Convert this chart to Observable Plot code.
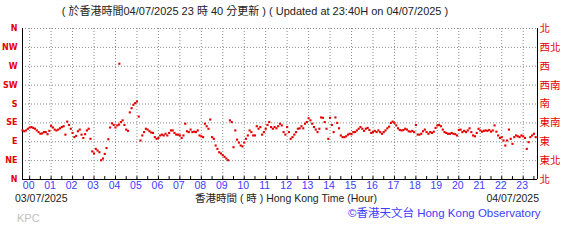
<!DOCTYPE html>
<html><head><meta charset="utf-8">
<script src="https://cdn.jsdelivr.net/npm/d3@7"></script>
<script src="https://cdn.jsdelivr.net/npm/@observablehq/plot@0.6"></script>
<style>
body{margin:0;background:#fff;}
#wrap{position:relative;width:568px;height:243px;overflow:hidden;font-family:"Liberation Sans","Noto Sans CJK TC",sans-serif;}
#wrap svg{position:absolute;left:0;top:0;}
.t{position:absolute;white-space:nowrap;line-height:1;}
</style></head><body>
<div id="wrap">
  <div id="chart"></div>
  <div class="t" id="title" style="left:0;width:510px;text-align:center;top:6px;font-size:11px;color:#222;"></div>
  <div class="t" id="dleft" style="left:15px;top:193px;font-size:10.5px;color:#222;"></div>
  <div class="t" id="xlabel" style="left:195px;top:193px;font-size:10.5px;color:#222;"></div>
  <div class="t" id="dright" style="right:29px;top:193px;font-size:10.5px;color:#222;"></div>
  <div class="t" id="kpc" style="left:17px;top:213px;font-size:11px;color:#c0c0c0;"></div>
  <div class="t" id="copy" style="left:348px;top:208px;font-size:11.5px;color:#3c3cff;"></div>
</div>
<script>
// ---- texts ----
const titleText = "( 於香港時間04/07/2025 23 時 40 分更新 ) ( Updated at 23:40H on 04/07/2025 )";
const startDate = "03/07/2025";
const endDate = "04/07/2025";
const xAxisTitle = "香港時間 ( 時 ) Hong Kong Time (Hour)";
const stationCode = "KPC";
const copyright = "©香港天文台 Hong Kong Observatory";

// ---- axes ----
const hourLabels = ["00","01","02","03","04","05","06","07","08","09","10","11","12","13","14","15","16","17","18","19","20","21","22","23"];
const dirDegrees = [0,45,90,135,180,225,270,315,360];
const dirLabelsEn = ["N","NE","E","SE","S","SW","W","NW","N"];
const dirLabelsZh = ["北","東北","東","東南","南","西南","西","西北","北"];

// ---- data: wind direction (degrees), one reading per 5 minutes from 23:40 ----
const startHour = -1/3;
const stepMinutes = 5;
const windDir = [
117,115,117,121,124,125,123,121,117,113,
109,110,113,113,108,116,128,124,119,117,
119,122,125,127,107,138,130,121,111,101,
104,115,119,107,99,108,117,121,97,67,
62,73,69,65,46,50,61,75,96,124,
134,130,124,129,131,137,141,130,119,116,
160,170,178,182,186,150,93,105,113,121,
119,115,112,111,101,97,99,105,107,105,
109,105,111,117,117,111,107,107,105,99,
105,133,115,113,119,113,114,113,117,105,
103,101,133,127,121,143,101,97,81,73,
65,62,58,54,50,46,141,137,77,117,
95,88,81,79,88,97,105,117,113,105,
105,127,121,125,107,113,121,130,137,125,
121,125,122,127,133,129,113,107,125,113,
97,101,107,113,121,122,127,122,133,137,
146,141,133,125,119,113,121,148,147,137,
121,97,147,130,113,148,135,122,105,101,
101,103,107,109,108,113,113,117,121,125,
121,116,121,123,118,111,113,116,113,117,
113,109,113,117,122,126,135,138,135,129,
122,118,117,118,121,119,115,114,116,113,
130,107,107,109,115,119,113,109,113,111,
114,123,129,130,127,119,113,111,109,109,
111,109,108,105,118,119,113,116,113,117,
122,113,105,103,111,121,117,114,116,117,
116,118,114,117,129,114,105,99,101,93,
81,93,119,97,85,101,105,103,101,105,
103,99,73,89,101,105,109,101
];
// isolated reading
const extraHours = [4.18];
const extraDirs = [276];

// ---- build ----
document.getElementById("title").textContent = titleText;
document.getElementById("dleft").textContent = startDate;
document.getElementById("dright").textContent = endDate;
document.getElementById("xlabel").textContent = xAxisTitle;
document.getElementById("kpc").textContent = stationCode;
document.getElementById("copy").textContent = copyright;

const rows = windDir.map((d, i) => ({t: startHour + i * stepMinutes / 60, d})).filter(r => r.d != null);
const extra = extraHours.map((t, i) => ({t, d: extraDirs[i]}));
const hours = hourLabels.map(h => +h);
const endHour = startHour + 24;
const minorTicks = d3.range(0, 24, 0.5);
const red = "#e60000";

const chart = Plot.plot({
  width: 568, height: 243,
  marginLeft: 22, marginRight: 31, marginTop: 28, marginBottom: 64,
  x: {domain: [startHour, endHour], label: null},
  y: {domain: [0, 360], label: null},
  style: {background: "transparent", fontFamily: "Liberation Sans, Noto Sans CJK TC, sans-serif"},
  marks: [
    Plot.ruleY(dirDegrees.filter(d => d > 0), {stroke: "#8c8c8c", strokeDasharray: "1,2"}),
    Plot.ruleX(hours, {stroke: "#8c8c8c", strokeDasharray: "1,2"}),
    Plot.ruleX(minorTicks, {y1: 0, y2: 7, stroke: "#000"}),
    Plot.ruleX([startHour, endHour], {stroke: "#000"}),
    Plot.ruleY([0], {stroke: "#000"}),
    Plot.axisY(dirDegrees, {anchor: "left", label: null, tickSize: 0, tickPadding: 5,
      tickFormat: d => dirLabelsEn[dirDegrees.indexOf(d)], color: red, fontSize: 8, fontWeight: "bold", fontFamily: "DejaVu Sans"}),
    Plot.axisY(dirDegrees, {anchor: "right", label: null, tickSize: 0, tickPadding: 2,
      tickFormat: d => dirLabelsZh[dirDegrees.indexOf(d)], color: red, fontSize: 10.5, fontFamily: "Noto Sans CJK TC"}),
    Plot.axisX(hours, {anchor: "bottom", label: null, tickSize: 0, tickPadding: 2,
      tickFormat: d => hourLabels[hours.indexOf(d)], color: "#3c3cff", fontSize: 10.5, dx: -1}),
    Plot.dot(rows, {x: "t", y: "d", r: 1.2, symbol: "square", fill: red, stroke: "none"}),
    Plot.dot(extra, {x: "t", y: "d", r: 1.2, symbol: "square", fill: red, stroke: "none"})
  ]
});
document.getElementById("chart").appendChild(chart);
</script>
</body></html>
